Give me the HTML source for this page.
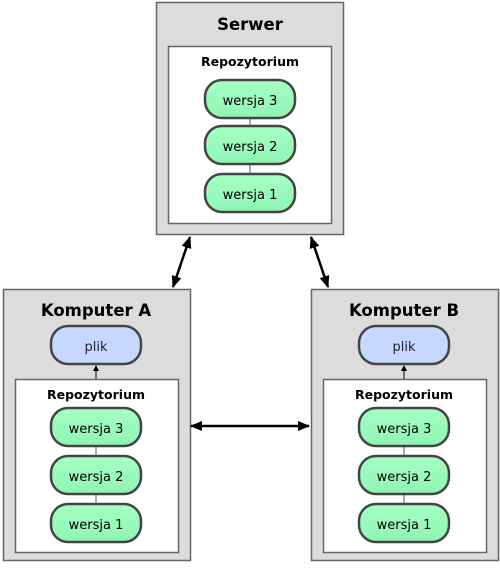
<!DOCTYPE html>
<html><head><style>body{margin:0;background:#fff}</style></head><body>
<svg width="500" height="563" xmlns="http://www.w3.org/2000/svg" font-family="'DejaVu Sans', 'Liberation Sans', sans-serif">
<defs>
<marker id="ah" markerWidth="12" markerHeight="10" refX="11" refY="5" orient="auto-start-reverse" markerUnits="userSpaceOnUse"><path d="M0,0 L12,5 L0,10 z" fill="#000"/></marker>
<marker id="sa" markerWidth="6" markerHeight="6" refX="5" refY="3" orient="auto" markerUnits="userSpaceOnUse"><path d="M0,0 L6,3 L0,6 z" fill="#000"/></marker>
<linearGradient id="g" x1="0" y1="0" x2="0" y2="1"><stop offset="0" stop-color="#a6ffc4"/><stop offset="1" stop-color="#8ff5b4"/></linearGradient>
</defs>
<g stroke="#666" stroke-width="1.5">
<rect x="156.5" y="2.5" width="187" height="232" fill="#dcdcdc"/>
<rect x="168.5" y="46.5" width="163" height="177" fill="#fff"/>
<rect x="3.5" y="289.5" width="187" height="271" fill="#dcdcdc"/>
<rect x="15.5" y="379.5" width="163" height="173" fill="#fff"/>
<rect x="311.5" y="289.5" width="187" height="271" fill="#dcdcdc"/>
<rect x="323.5" y="379.5" width="163" height="173" fill="#fff"/>
</g>
<g stroke="#555" stroke-width="1">
<line x1="250" y1="118" x2="250" y2="126"/><line x1="250" y1="164" x2="250" y2="174"/>
<line x1="96" y1="447" x2="96" y2="456"/><line x1="96" y1="495" x2="96" y2="504"/>
<line x1="404" y1="447" x2="404" y2="456"/><line x1="404" y1="495" x2="404" y2="504"/>
</g>
<g stroke="#000" stroke-width="1">
<line x1="96" y1="379" x2="96" y2="366" marker-end="url(#sa)"/>
<line x1="404" y1="379" x2="404" y2="366" marker-end="url(#sa)"/>
</g>
<g stroke="#000" stroke-width="2.5" fill="none">
<line x1="190" y1="237" x2="173" y2="287" marker-start="url(#ah)" marker-end="url(#ah)"/>
<line x1="311" y1="237" x2="328" y2="287" marker-start="url(#ah)" marker-end="url(#ah)"/>
<line x1="191" y1="426" x2="309" y2="426" marker-start="url(#ah)" marker-end="url(#ah)"/>
</g>
<g stroke="#444" stroke-width="2.5" fill="url(#g)">
<rect x="205" y="80" width="90" height="38" rx="17"/>
<rect x="205" y="126" width="90" height="38" rx="17"/>
<rect x="205" y="174" width="90" height="38" rx="17"/>
<rect x="51" y="408" width="90" height="38" rx="17"/>
<rect x="51" y="456" width="90" height="38" rx="17"/>
<rect x="51" y="504" width="90" height="38" rx="17"/>
<rect x="359" y="408" width="90" height="38" rx="17"/>
<rect x="359" y="456" width="90" height="38" rx="17"/>
<rect x="359" y="504" width="90" height="38" rx="17"/>
<rect x="51" y="326" width="90" height="38" rx="17" fill="#c6d8ff"/>
<rect x="359" y="326" width="90" height="38" rx="17" fill="#c6d8ff"/>
</g>
<g text-anchor="middle" font-weight="bold" fill="#000">
<text x="250" y="30" font-size="16.5">Serwer</text>
<text x="96" y="316" font-size="16.5">Komputer A</text>
<text x="404" y="316" font-size="16.5">Komputer B</text>
<text x="250" y="66" font-size="12.5">Repozytorium</text>
<text x="96" y="399" font-size="12.5">Repozytorium</text>
<text x="404" y="399" font-size="12.5">Repozytorium</text>
</g>
<g text-anchor="middle" font-size="13" fill="#000">
<text x="250" y="105">wersja 3</text><text x="250" y="151">wersja 2</text><text x="250" y="199">wersja 1</text>
<text x="96" y="433">wersja 3</text><text x="96" y="481">wersja 2</text><text x="96" y="529">wersja 1</text>
<text x="404" y="433">wersja 3</text><text x="404" y="481">wersja 2</text><text x="404" y="529">wersja 1</text>
<text x="96" y="351" fill="#223">plik</text><text x="404" y="351" fill="#223">plik</text>
</g>
</svg>
</body></html>
